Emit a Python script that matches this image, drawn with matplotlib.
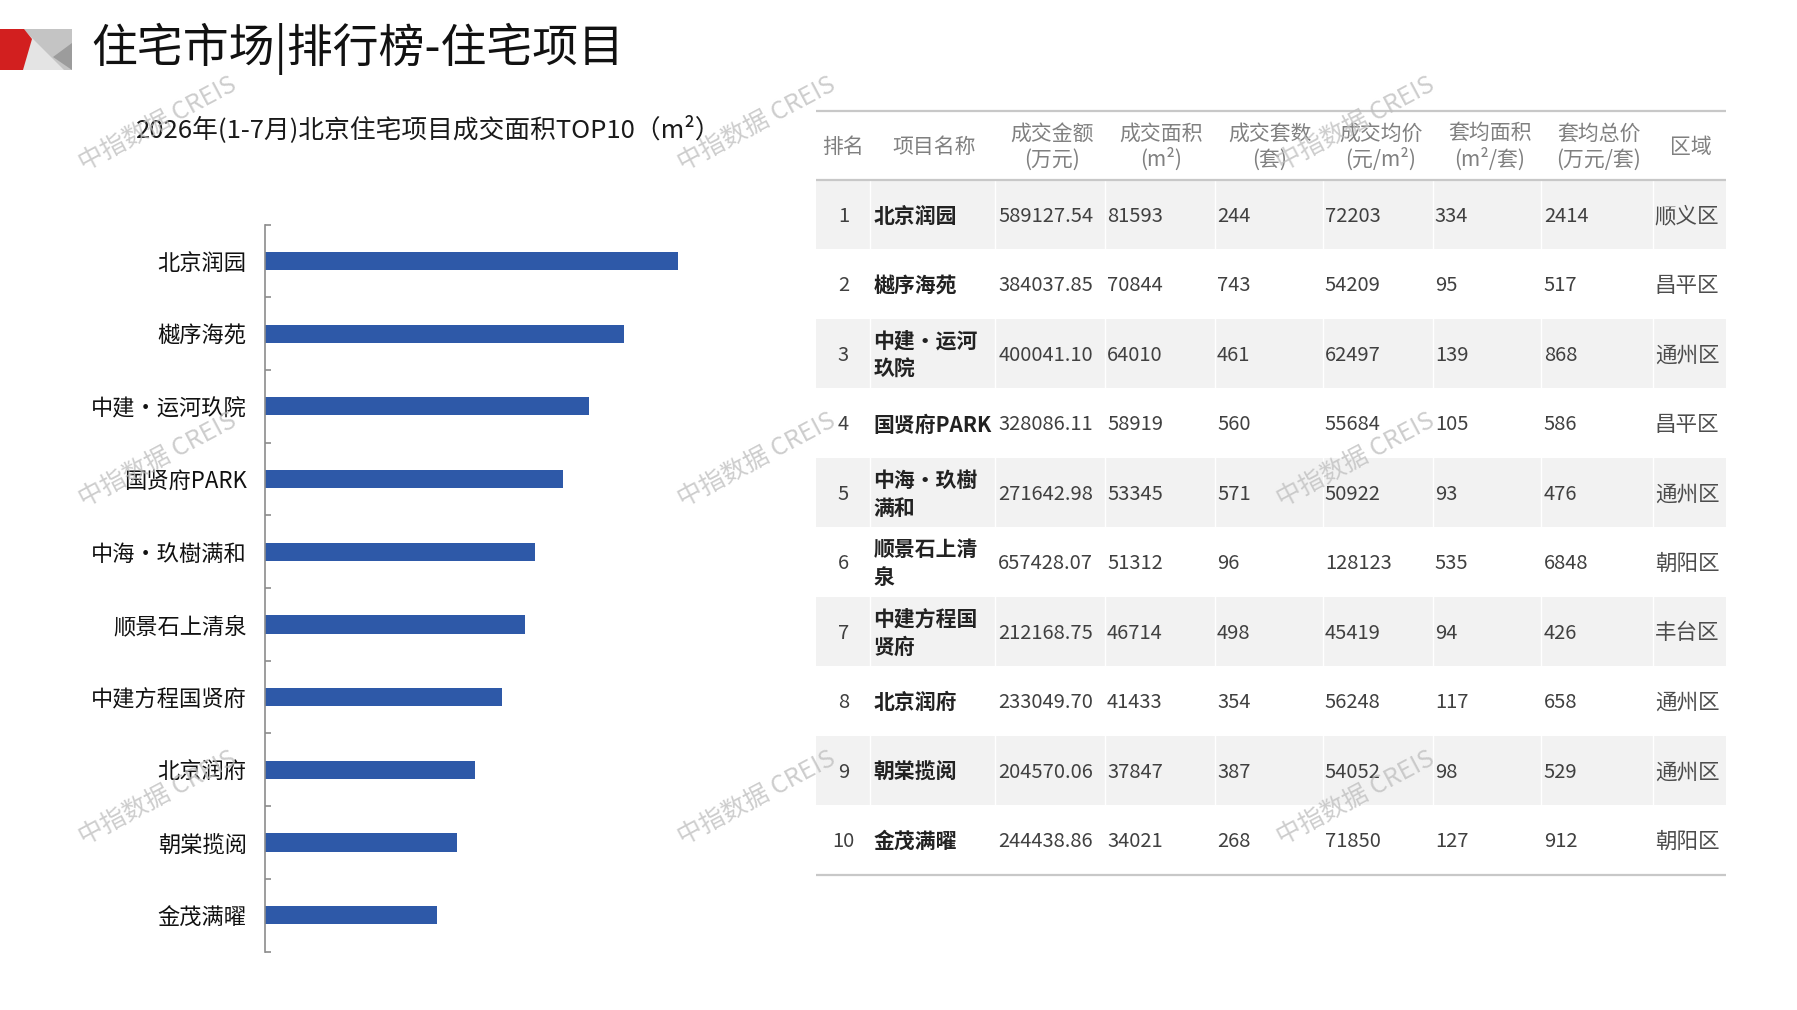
import matplotlib
matplotlib.use("Agg")
import matplotlib.pyplot as plt
from matplotlib.patches import Polygon, Rectangle
from matplotlib.ticker import FixedLocator, NullLocator

plt.rcParams['font.family'] = ['Noto Sans CJK SC', 'DejaVu Sans']

# === Data ===
ranks = [1, 2, 3, 4, 5, 6, 7, 8, 9, 10]
projects = ["北京润园", "樾序海苑", "中建•运河玖院", "国贤府PARK", "中海•玖樹满和",
            "顺景石上清泉", "中建方程国贤府", "北京润府", "朝棠揽阅", "金茂满曜"]
table_names = ["北京润园", "樾序海苑", "中建•运河\n玖院", "国贤府PARK", "中海•玖樹\n满和",
               "顺景石上清\n泉", "中建方程国\n贤府", "北京润府", "朝棠揽阅", "金茂满曜"]
amount = [589127.54, 384037.85, 400041.10, 328086.11, 271642.98,
          657428.07, 212168.75, 233049.70, 204570.06, 244438.86]   # 万元
area = [81593, 70844, 64010, 58919, 53345, 51312, 46714, 41433, 37847, 34021]  # m²
units = [244, 743, 461, 560, 571, 96, 498, 354, 387, 268]
price = [72203, 54209, 62497, 55684, 50922, 128123, 45419, 56248, 54052, 71850]
avg_area = [334, 95, 139, 105, 93, 535, 94, 117, 98, 127]
avg_total = [2414, 517, 868, 586, 476, 6848, 426, 658, 529, 912]
district = ["顺义区", "昌平区", "通州区", "昌平区", "通州区",
            "朝阳区", "丰台区", "通州区", "通州区", "朝阳区"]
headers = ["排名", "项目名称", "成交金额\n(万元)", "成交面积\n(m²)", "成交套数\n(套)",
           "成交均价\n(元/m²)", "套均面积\n(m²/套)", "套均总价\n(万元/套)", "区域"]

title = "住宅市场|排行榜-住宅项目"
subtitle = "2026年(1-7月)北京住宅项目成交面积TOP10（m²）"

# layout helpers (reference measured on a 1568x881 grid)
W, H = 1568.0, 881.0
def fx(x):
    return x / W
def fy(y):
    return 1 - y / H

fig = plt.figure(figsize=(17.97, 10.10), dpi=100)

# === Logo ===
logo = fig.add_axes([0, 0, 1, 1], zorder=0)
logo.set_xlim(0, 1797)
logo.set_ylim(1010, 0)
logo.axis("off")
logo.add_patch(Rectangle((23, 29), 49, 41, color="#c4c4c4", lw=0))
logo.add_patch(Polygon([(23, 29), (64, 70), (22, 70)], closed=True, color="#e4e4e4", lw=0))
logo.add_patch(Polygon([(72, 43), (72, 70), (53, 57)], closed=True, color="#9c9c9c", lw=0))
logo.add_patch(Polygon([(0, 29), (24, 29), (32, 39), (23, 70), (0, 70)], closed=True,
                       color="#d21f1f", lw=0))

fig.text(fx(80), fy(43), title, fontsize=33, color="#111111", va="center", ha="left")
fig.text(fx(374), fy(113), subtitle, fontsize=18.5, color="#1a1a1a", va="center", ha="center")

# === Bar chart ===
ax = fig.add_axes([fx(231), fy(830), 407 / W, (830 - 196) / H])
ypos = list(range(len(projects)))
ax.barh(ypos, area, height=0.25, color="#2E59A8")
ax.set_ylim(len(projects) - 0.5, -0.5)
ax.set_xlim(0, 92000)
for s in ["top", "right", "bottom"]:
    ax.spines[s].set_visible(False)
ax.spines["left"].set_color("#8c8c8c")
ax.spines["left"].set_linewidth(1.2)
ax.xaxis.set_major_locator(NullLocator())
ax.set_yticks(ypos)
ax.set_yticklabels(projects, fontsize=16, color="#111111")
ax.tick_params(axis="y", which="major", length=0, pad=13)
ax.yaxis.set_minor_locator(FixedLocator([i - 0.5 for i in range(len(projects) + 1)]))
ax.tick_params(axis="y", which="minor", direction="in", length=4, width=1.2, color="#8c8c8c")

# === Table ===
tax = fig.add_axes([fx(712), fy(770), (1506 - 712) / W, (770 - 90) / H])
tax.set_xlim(712, 1506)
tax.set_ylim(770, 90)
tax.axis("off")

bounds = [712, 759, 868, 964, 1060, 1154, 1250, 1345, 1442, 1506]
row_top, row_h = 157, 60.6

for i in range(len(ranks)):
    y0 = row_top + row_h * i
    if i % 2 == 0:
        tax.add_patch(Rectangle((bounds[0], y0), bounds[-1] - bounds[0], row_h,
                                color="#f2f2f2", lw=0, zorder=0))
        for b in bounds[1:-1]:
            tax.plot([b, b], [y0, y0 + row_h], color="white", lw=1, zorder=1)

tax.plot([712, 1506], [97, 97], color="#c8c8c8", lw=1.6)
tax.plot([712, 1506], [157, 157], color="#c8c8c8", lw=1.6)
tax.plot([712, 1506], [row_top + row_h * 10, row_top + row_h * 10], color="#c8c8c8", lw=1.6)

head_x = [736, 815, 918, 1013, 1108, 1205, 1300, 1395, 1475]
for hx, h in zip(head_x, headers):
    tax.text(hx, 128, h, ha="center", va="center", fontsize=15, color="#808080",
             linespacing=1.2)

num_cols = [amount, area, units, price, avg_area, avg_total]
num_x = [871, 966, 1062, 1156, 1252, 1347]
for i in range(len(ranks)):
    yc = row_top + row_h * (i + 0.5) + 1.5
    tax.text(736, yc, str(ranks[i]), ha="center", va="center", fontsize=14.5, color="#404040")
    tax.text(762, yc, table_names[i], ha="left", va="center", fontsize=15,
             fontweight="bold", color="#222222", linespacing=1.4)
    for col, x in zip(num_cols, num_x):
        v = col[i]
        s = f"{v:.2f}" if isinstance(v, float) else str(v)
        tax.text(x, yc, s, ha="left", va="center", fontsize=14.5, color="#404040")
    tax.text(1472, yc, district[i], ha="center", va="center", fontsize=15.5, color="#4d4d4d")

# === Watermarks ===
for wy in [108, 401, 696]:
    for wx in [138, 660, 1183]:
        fig.text(fx(wx), fy(wy), "中指数据 CREIS", rotation=28, fontsize=18,
                 color="#bdbdbd", alpha=0.75, ha="center", va="center",
                 rotation_mode="anchor", zorder=10)

fig.savefig("out.png", dpi=100)
